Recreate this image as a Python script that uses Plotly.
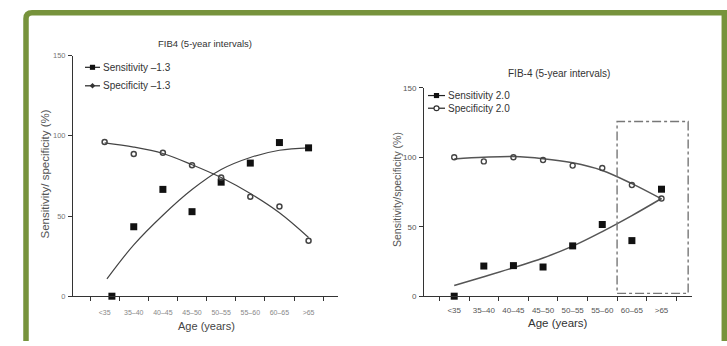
import plotly.graph_objects as go

W, H = 727, 346

# ---------------- data ----------------
age_groups = ["<35", "35\u201340", "40\u201345", "45\u201350", "50\u201355", "55\u201360", "60\u201365", ">65"]
cat_idx = [0, 1, 2, 3, 4, 5, 6, 7]

# Left panel: FIB4 cut-off 1.3
sens13_x = [0.25, 1, 2, 3, 4, 5, 6, 7]
sens13 = [0, 43.3, 66.6, 52.7, 71.1, 83, 95.8, 92.5]
spec13 = [96.2, 88.7, 89.5, 81.6, 74, 62, 55.9, 34.6]
sens13_fit_x = [0.08, 1, 2, 3, 4, 5, 6, 7]
sens13_fit = [10.8, 32, 50.5, 66.5, 79, 86.5, 91, 92.5]
spec13_fit = [95.6, 93, 89, 82, 74, 64, 52, 36.6]

# Right panel: FIB-4 cut-off 2.0
sens20 = [0, 21.7, 22, 21, 36.2, 51.6, 40, 77]
spec20 = [100, 97, 100, 98, 94, 92.3, 80, 70.3]
sens20_fit = [7.7, 14, 20.5, 27.5, 36, 46.5, 58, 70.3]
spec20_fit = [98.8, 100, 100.5, 99, 96, 90.5, 81, 70]

y_ticks = [0, 50, 100, 150]

# ---------------- helpers ----------------
def px(x):
    return x / W

def py(y):
    return 1 - y / H

NARROW = "Liberation Sans Narrow, Arial Narrow, Liberation Sans, Arial"
SANS = "Liberation Sans, Arial, sans-serif"

fig = go.Figure()

# left panel traces
fig.add_trace(go.Scatter(x=sens13_fit_x, y=sens13_fit, mode="lines", line=dict(color="#444", width=1.2, shape="spline"),
                         xaxis="x", yaxis="y", showlegend=False, cliponaxis=False))
fig.add_trace(go.Scatter(x=cat_idx, y=spec13_fit, mode="lines", line=dict(color="#444", width=1.2, shape="spline"),
                         xaxis="x", yaxis="y", showlegend=False, cliponaxis=False))
fig.add_trace(go.Scatter(x=sens13_x, y=sens13, mode="markers",
                         marker=dict(symbol="square", size=7, color="#111"),
                         xaxis="x", yaxis="y", showlegend=False, cliponaxis=False))
fig.add_trace(go.Scatter(x=cat_idx, y=spec13, mode="markers",
                         marker=dict(symbol="circle-open", size=5, color="#444", line=dict(width=1.5)),
                         xaxis="x", yaxis="y", showlegend=False, cliponaxis=False))

# right panel traces
fig.add_trace(go.Scatter(x=cat_idx, y=sens20_fit, mode="lines", line=dict(color="#555", width=1.5, shape="spline"),
                         xaxis="x2", yaxis="y2", showlegend=False, cliponaxis=False))
fig.add_trace(go.Scatter(x=cat_idx, y=spec20_fit, mode="lines", line=dict(color="#555", width=1.5, shape="spline"),
                         xaxis="x2", yaxis="y2", showlegend=False, cliponaxis=False))
fig.add_trace(go.Scatter(x=cat_idx, y=sens20, mode="markers",
                         marker=dict(symbol="square", size=7, color="#111"),
                         xaxis="x2", yaxis="y2", showlegend=False, cliponaxis=False))
fig.add_trace(go.Scatter(x=cat_idx, y=spec20, mode="markers",
                         marker=dict(symbol="circle-open", size=5, color="#444", line=dict(width=1.4)),
                         xaxis="x2", yaxis="y2", showlegend=False, cliponaxis=False))

boundaries = [i - 0.5 for i in range(9)]

def xaxis_cfg(domain, rng, font, color, standoff):
    return dict(domain=domain, range=rng, showline=True, linecolor="#333", linewidth=1,
                tickmode="array", tickvals=cat_idx, ticktext=age_groups, ticks="outside", ticklen=0,
                tickfont=dict(family=font[0], size=font[1], color=color), ticklabelstandoff=standoff,
                minor=dict(tickmode="array", tickvals=boundaries, ticks="outside", ticklen=4,
                           tickcolor="#333", tickwidth=1, showgrid=False),
                showgrid=False, zeroline=False, fixedrange=True)

def yaxis_cfg(domain, anchor, font, color):
    return dict(domain=domain, range=[0, 150], anchor=anchor, showline=True, linecolor="#333", linewidth=1,
                tickmode="array", tickvals=y_ticks, ticks="outside", ticklen=4, tickcolor="#333",
                tickfont=dict(family=font[0], size=font[1], color=color), ticklabelstandoff=1,
                showgrid=False, zeroline=False, fixedrange=True)

fig.update_layout(
    width=W, height=H, margin=dict(l=0, r=0, t=0, b=0),
    paper_bgcolor="white", plot_bgcolor="white", showlegend=False,
    xaxis=xaxis_cfg([px(73), px(338)], [-1.085, 8.01], (NARROW, 7), "#888", 9),
    yaxis=yaxis_cfg([1 - 300 / H, 1 - 53 / H], "x", (NARROW, 7.5), "#777"),
    xaxis2=xaxis_cfg([px(424), px(692)], [-1.02, 8.03], (SANS, 8), "#555", 6),
    yaxis2=yaxis_cfg([1 - 300 / H, 1 - 86 / H], "x2", (SANS, 8), "#555"),
)
fig.layout.xaxis2.anchor = "y2"
fig.layout.xaxis.anchor = "y"

shapes = []
# green frame
path = (f"M {px(26)} {py(346)} L {px(26)} {py(15)} Q {px(26)} {py(9)} {px(32)} {py(9)} "
        f"L {px(724.3)} {py(9)} L {px(724.3)} {py(346)}")
shapes.append(dict(type="path", xref="paper", yref="paper", path=path,
                   line=dict(color="#77933c", width=5.5)))
# dash-dot highlight box on right panel
shapes.append(dict(type="rect", xref="x2", yref="y2", x0=5.5, x1=7.9, y0=2, y1=125.7,
                   line=dict(color="#777", width=1.4, dash="dashdot")))

annotations = []

def legend_entry(x0, x1, y, marker, text, font, size, color):
    shapes.append(dict(type="line", xref="paper", yref="paper", x0=px(x0), x1=px(x1), y0=py(y), y1=py(y),
                       line=dict(color="#222", width=1.2)))
    cx = (x0 + x1) / 2
    if marker == "square":
        shapes.append(dict(type="rect", xref="paper", yref="paper", x0=px(cx - 2.6), x1=px(cx + 2.6),
                           y0=py(y + 2.6), y1=py(y - 2.6), fillcolor="#111", line=dict(width=0)))
    elif marker == "diamond":
        shapes.append(dict(type="path", xref="paper", yref="paper",
                           path=f"M {px(cx-2.8)} {py(y)} L {px(cx)} {py(y-2.8)} L {px(cx+2.8)} {py(y)} L {px(cx)} {py(y+2.8)} Z",
                           fillcolor="#333", line=dict(width=0)))
    else:
        shapes.append(dict(type="circle", xref="paper", yref="paper", x0=px(cx - 2.5), x1=px(cx + 2.5),
                           y0=py(y + 2.5), y1=py(y - 2.5), fillcolor="white", line=dict(color="#333", width=1.2)))
    annotations.append(dict(xref="paper", yref="paper", x=px(x1 + 1), y=py(y), xanchor="left", yanchor="middle",
                            text=text, showarrow=False, font=dict(family=font, size=size, color=color)))

legend_entry(85, 100, 65, "square", "Sensitivity \u20131.3", NARROW, 10, "#333")
legend_entry(85, 100, 84, "diamond", "Specificity \u20131.3", NARROW, 10, "#333")
legend_entry(428, 445, 94, "square", "Sensitivity 2.0", SANS, 10, "#333")
legend_entry(428, 445, 107, "circle", "Specificity 2.0", SANS, 10, "#333")

def text(x, y, s, font, size, color, angle=0):
    annotations.append(dict(xref="paper", yref="paper", x=px(x), y=py(y), xanchor="center", yanchor="middle",
                            text=s, showarrow=False, textangle=angle,
                            font=dict(family=font, size=size, color=color)))

text(205, 41, "FIB4 (5-year intervals)", NARROW, 9.5, "#333")
text(559, 71, "FIB-4 (5-year intervals)", SANS, 10, "#333")
text(45, 175, "Sensitivity/ specificity (%)", SANS, 11.5, "#555", -90)
text(397, 191, "Sensitivity/specificity (%)", SANS, 10.5, "#555", -90)
text(206, 331, "Age (years)", NARROW, 11, "#444")
text(558, 328, "Age (years)", NARROW, 11.5, "#333")

fig.update_layout(shapes=shapes, annotations=annotations)
fig.write_html("out.html")
